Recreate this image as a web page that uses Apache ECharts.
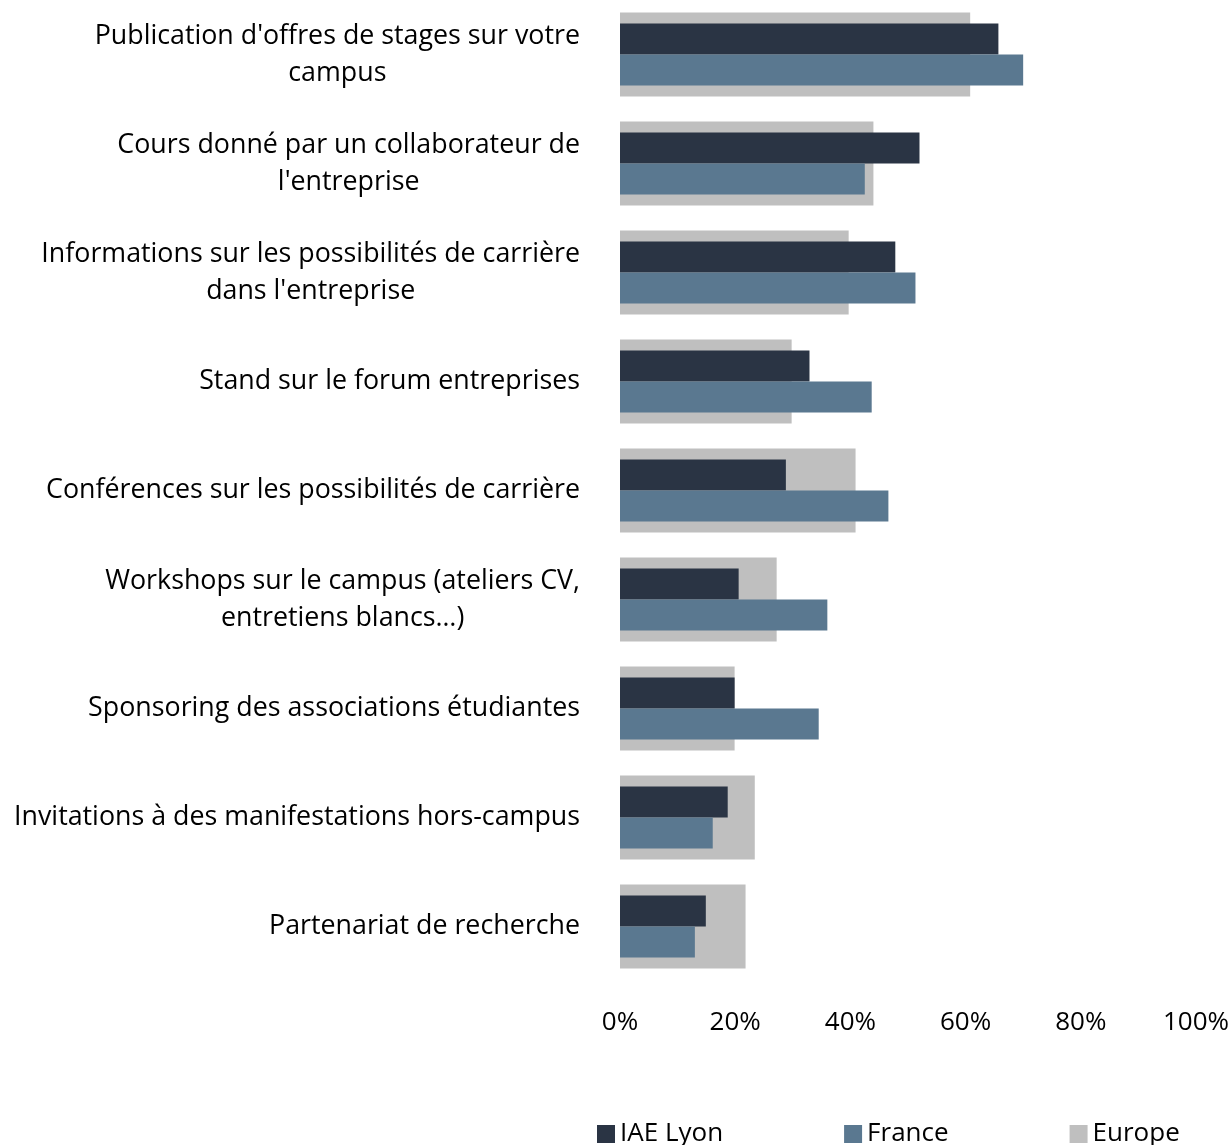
<!DOCTYPE html>
<html>
<head>
<meta charset="utf-8">
<script src="https://cdn.jsdelivr.net/npm/echarts@6/dist/echarts.min.js"></script>
<style>
  html, body { margin: 0; padding: 0; background: #fff; }
  #chart { width: 1232px; height: 1145px; }
</style>
</head>
<body>
<div id="chart"></div>
<script>
// categories, top to bottom
const categories = [
  "Publication d'offres de stages sur votre\ncampus",
  "Cours donné par un collaborateur de\nl'entreprise",
  "Informations sur les possibilités de carrière\ndans l'entreprise",
  "Stand sur le forum entreprises",
  "Conférences sur les possibilités de carrière",
  "Workshops sur le campus (ateliers CV,\nentretiens blancs…)",
  "Sponsoring des associations étudiantes",
  "Invitations à des manifestations hors-campus",
  "Partenariat de recherche"
];
const iaeLyon = [65.7, 52.0, 47.8, 32.9, 28.8, 20.6, 19.9, 18.7, 14.9];
const france = [70.0, 42.5, 51.3, 43.7, 46.6, 36.0, 34.5, 16.1, 13.0];
const europe = [60.8, 44.0, 39.7, 29.8, 40.9, 27.2, 19.9, 23.4, 21.8];
const xTicks = [0, 20, 40, 60, 80, 100];

const FONT = "'Open Sans', 'Noto Sans', sans-serif";

const chart = echarts.init(document.getElementById("chart"));
chart.setOption({
  animation: false,
  textStyle: { fontFamily: FONT, color: "#000" },
  grid: { left: 620, width: 577, top: -5, height: 986 },
  legend: {
    data: ["IAE Lyon", "France", "Europe"],
    left: 592,
    top: 1116,
    itemWidth: 18,
    itemHeight: 18,
    itemGap: 121,
    icon: "rect",
    textStyle: { fontFamily: FONT, fontSize: 26, color: "#000" }
  },
  xAxis: {
    type: "value",
    min: xTicks[0],
    max: xTicks[xTicks.length - 1],
    interval: 20,
    axisLine: { show: false },
    axisTick: { show: false },
    splitLine: { show: false },
    axisLabel: {
      margin: 29,
      fontSize: 26,
      fontFamily: FONT,
      color: "#000",
      formatter: "{value}%"
    }
  },
  yAxis: [
    {
      type: "category",
      data: categories,
      inverse: true,
      axisLine: { show: false },
      axisTick: { show: false },
      axisLabel: {
        margin: 40,
        formatter: function (v) {
          return v.split("\n").map(function (l) { return "{c|" + l + "}"; }).join("\n");
        },
        rich: {
          c: { align: "center", fontSize: 26.8, lineHeight: 37, fontFamily: FONT, color: "#000" }
        }
      }
    },
    {
      type: "category",
      data: categories,
      inverse: true,
      show: false
    }
  ],
  series: [
    {
      name: "Europe",
      type: "bar",
      yAxisIndex: 1,
      data: europe,
      barWidth: 84,
      z: 1,
      itemStyle: { color: "#bfbfbf" }
    },
    {
      name: "IAE Lyon",
      type: "bar",
      yAxisIndex: 0,
      data: iaeLyon,
      barWidth: 31,
      barGap: "0%",
      z: 2,
      itemStyle: { color: "#2a3444" }
    },
    {
      name: "France",
      type: "bar",
      yAxisIndex: 0,
      data: france,
      barWidth: 31,
      barGap: "0%",
      z: 2,
      itemStyle: { color: "#5a7890" }
    }
  ]
});
</script>
</body>
</html>
